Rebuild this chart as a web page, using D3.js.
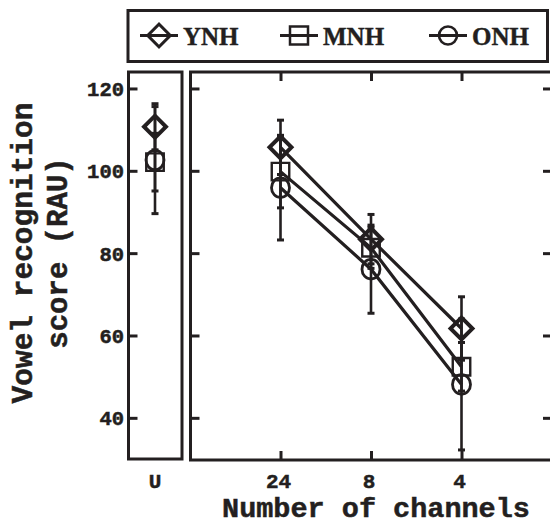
<!DOCTYPE html>
<html><head><meta charset="utf-8">
<script src="https://cdn.jsdelivr.net/npm/d3@7"></script>
<style>body{margin:0;background:#fff}svg{display:block}</style>
</head><body>
<script>
// ---- data ----
const seriesNames = ["YNH", "MNH", "ONH"];
const channelCats = ["24", "8", "4"];
const uCats = ["U"];
const uMean = [110.7, 102.1, 102.6];   // YNH, MNH, ONH unprocessed
const uErr  = [5.6, 7.0, 13.0];
const ynhMean = [105.7, 83.4, 61.7];
const ynhErr  = [6.6, 6.0, 7.7];
const mnhMean = [99.8, 81.3, 52.4];
const mnhErr  = [8.8, 5.0, 5.9];
const onhMean = [95.9, 76.1, 48.1];
const onhErr  = [12.7, 10.7, 15.9];
const yTicks = [40, 60, 80, 100, 120];

const W = 550, H = 525, INK = "#231f20";
const symbols = ["diamond", "square", "circle"];
const means = [ynhMean, mnhMean, onhMean];
const errs = [ynhErr, mnhErr, onhErr];
const series = seriesNames.map((n, i) => ({name: n, sym: symbols[i], mean: means[i], err: errs[i], u: uMean[i], ue: uErr[i]}));

const svg = d3.select("body").append("svg").attr("width", W).attr("height", H);
const font = "'Liberation Mono', 'Courier New', monospace";

const y = d3.scaleLinear().domain([30, 124]).range([459, 72]);
const xU = d3.scalePoint().domain(uCats).range([128, 182]).padding(0.5);
const xM = d3.scalePoint().domain(channelCats).range([190, 552]).padding(1);

function monoText(g) {
  return g.append("text").attr("font-family", font).attr("font-weight", "bold").attr("fill", INK)
    .attr("stroke", INK).attr("stroke-width", 0.5);
}
function marker(g, sym, cx, cy) {
  if (sym === "diamond") {
    g.append("path").attr("d", d3.symbol(d3.symbolSquare, 15.5 * 15.5)())
      .attr("transform", `translate(${cx},${cy}) rotate(45)`)
      .attr("fill", "none").attr("stroke", INK).attr("stroke-width", 4);
  } else if (sym === "square") {
    g.append("path").attr("d", d3.symbol(d3.symbolSquare, 17 * 18)())
      .attr("transform", `translate(${cx},${cy})`)
      .attr("fill", "none").attr("stroke", INK).attr("stroke-width", 2.4);
  } else {
    g.append("ellipse").attr("cx", cx).attr("cy", cy).attr("rx", 9).attr("ry", 9.8)
      .attr("fill", "none").attr("stroke", INK).attr("stroke-width", 2.8);
  }
}
function errbar(g, cx, m, e) {
  g.append("line").attr("x1", cx).attr("x2", cx).attr("y1", y(m + e)).attr("y2", y(m - e))
    .attr("stroke", INK).attr("stroke-width", 2.6);
  [m + e, m - e].forEach(v => g.append("line").attr("x1", cx - 3.5).attr("x2", cx + 3.5)
    .attr("y1", y(v)).attr("y2", y(v)).attr("stroke", INK).attr("stroke-width", 3));
}

// ---- legend ----
const leg = svg.append("g");
leg.append("rect").attr("x", 128).attr("y", 10.5).attr("width", 419.5).attr("height", 51)
  .attr("fill", "none").attr("stroke", INK).attr("stroke-width", 3);
const legX = [159, 299, 448];
series.forEach((s, i) => {
  const cx = legX[i], cy = 35.5;
  leg.append("line").attr("x1", cx - 19).attr("x2", cx + 19).attr("y1", cy).attr("y2", cy)
    .attr("stroke", INK).attr("stroke-width", 3);
  if (s.sym === "diamond") {
    leg.append("path").attr("d", d3.symbol(d3.symbolSquare, 16 * 16)())
      .attr("transform", `translate(${cx},${cy}) rotate(45)`)
      .attr("fill", "none").attr("stroke", INK).attr("stroke-width", 3);
  } else if (s.sym === "square") {
    leg.append("path").attr("d", d3.symbol(d3.symbolSquare, 18 * 18)())
      .attr("transform", `translate(${cx},${cy})`)
      .attr("fill", "none").attr("stroke", INK).attr("stroke-width", 2.5);
  } else {
    leg.append("circle").attr("cx", cx).attr("cy", cy).attr("r", 9)
      .attr("fill", "none").attr("stroke", INK).attr("stroke-width", 2.6);
  }
  leg.append("text").attr("x", cx + 24).attr("y", 45)
    .attr("font-family", "'Liberation Serif', serif").attr("font-weight", "bold")
    .attr("font-size", 25).attr("fill", INK).attr("stroke", INK).attr("stroke-width", 0.4).text(s.name);
});

// ---- U panel ----
const gU = svg.append("g");
gU.append("rect").attr("x", 128.5).attr("y", 72).attr("width", 53.5).attr("height", 387)
  .attr("fill", "none").attr("stroke", INK).attr("stroke-width", 3);
gU.append("g").attr("transform", "translate(128.5,0)")
  .call(d3.axisRight(y).tickValues(yTicks).tickSize(9).tickFormat(""))
  .call(a => a.select(".domain").remove())
  .call(a => a.selectAll("line").attr("stroke", INK).attr("stroke-width", 3));
yTicks.forEach(t => monoText(gU).attr("x", 124).attr("y", y(t)).attr("dy", "0.36em")
  .attr("text-anchor", "end").attr("font-size", 20.5).text(t));
uCats.forEach(c => monoText(gU).attr("x", xU(c)).attr("y", 488).attr("text-anchor", "middle")
  .attr("font-size", 21).text(c));
series.forEach(s => errbar(gU, xU("U"), s.u, s.ue));
series.forEach(s => marker(gU, s.sym, xU("U"), y(s.u)));

// ---- main panel ----
const gM = svg.append("g");
gM.append("rect").attr("x", 190.5).attr("y", 72).attr("width", 362).attr("height", 388)
  .attr("fill", "none").attr("stroke", INK).attr("stroke-width", 3);
gM.append("g").attr("transform", "translate(190.5,0)")
  .call(d3.axisRight(y).tickValues(yTicks).tickSize(9).tickFormat(""))
  .call(a => a.select(".domain").remove())
  .call(a => a.selectAll("line").attr("stroke", INK).attr("stroke-width", 3));
gM.append("g").attr("transform", "translate(550,0)")
  .call(d3.axisLeft(y).tickValues(yTicks).tickSize(7).tickFormat(""))
  .call(a => a.select(".domain").remove())
  .call(a => a.selectAll("line").attr("stroke", INK).attr("stroke-width", 3));
gM.append("g").attr("transform", "translate(0,72)")
  .call(d3.axisBottom(xM).tickSize(9).tickFormat(""))
  .call(a => a.select(".domain").remove())
  .call(a => a.selectAll("line").attr("stroke", INK).attr("stroke-width", 3));
gM.append("g").attr("transform", "translate(0,460)")
  .call(d3.axisTop(xM).tickSize(9).tickFormat(""))
  .call(a => a.select(".domain").remove())
  .call(a => a.selectAll("line").attr("stroke", INK).attr("stroke-width", 3));
channelCats.forEach(c => monoText(gM).attr("x", xM(c) - 2).attr("y", 488).attr("text-anchor", "middle")
  .attr("font-size", 21).text(c));

const line = d3.line().x((d, i) => xM(channelCats[i])).y(d => y(d));
series.forEach(s => gM.append("path").attr("d", line(s.mean)).attr("fill", "none")
  .attr("stroke", INK).attr("stroke-width", 3.2));
series.forEach(s => s.mean.forEach((m, i) => errbar(gM, xM(channelCats[i]), m, s.err[i])));
series.forEach(s => s.mean.forEach((m, i) => marker(gM, s.sym, xM(channelCats[i]), y(m))));

// ---- axis titles ----
monoText(svg).attr("x", 376).attr("y", 517).attr("text-anchor", "middle")
  .attr("font-size", 28.5).text("Number of channels");
monoText(svg).attr("transform", "translate(32,253) rotate(-90)").attr("text-anchor", "middle")
  .attr("font-size", 29.5).text("Vowel recognition");
monoText(svg).attr("transform", "translate(67,253) rotate(-90)").attr("text-anchor", "middle")
  .attr("font-size", 29).text("score (RAU)");
</script>
</body></html>
